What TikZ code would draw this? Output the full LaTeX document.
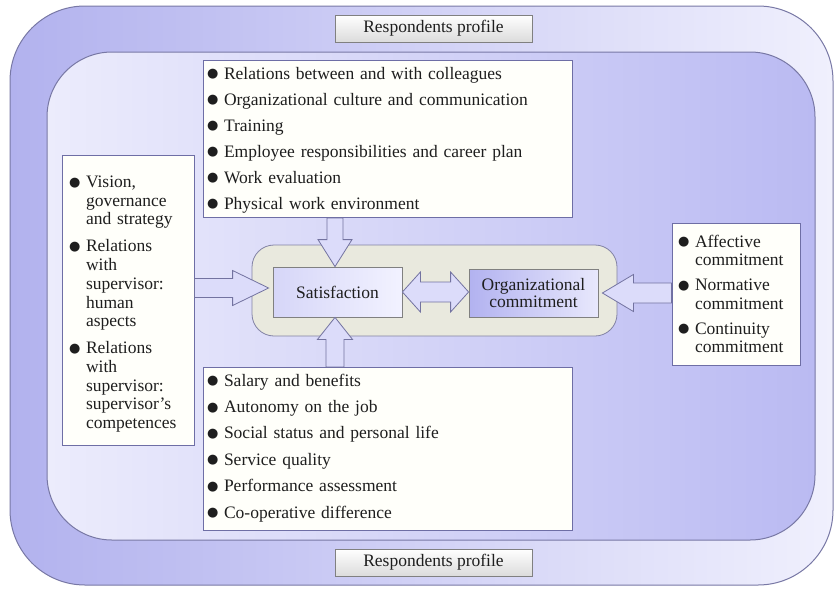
\documentclass[tikz,border=0pt]{standalone}
\usepackage{fontspec}
\setmainfont{Liberation Serif}
\newfontfamily\bulfont{DejaVu Sans}
\usetikzlibrary{calc}
\definecolor{outerL}{RGB}{178,178,238}
\definecolor{outerR}{RGB}{240,240,253}
\definecolor{innerL}{RGB}{236,236,252}
\definecolor{innerR}{RGB}{186,186,242}
\definecolor{shapeborder}{RGB}{120,120,165}
\definecolor{boxborder}{RGB}{110,110,165}
\definecolor{listfill}{RGB}{255,255,250}
\definecolor{corefill}{RGB}{233,233,222}
\definecolor{coreborder}{RGB}{130,130,165}
\definecolor{arrowfill}{RGB}{220,220,250}
\definecolor{arrowborder}{RGB}{115,115,160}
\definecolor{satL}{RGB}{214,214,248}
\definecolor{satR}{RGB}{242,242,255}
\definecolor{orgL}{RGB}{178,178,240}
\definecolor{orgR}{RGB}{232,232,252}
\definecolor{txt}{RGB}{30,30,30}
\newlength\bulw
\setlength\bulw{17pt}
\newcommand\itm[2][0pt]{\par\lineskip=0pt\vspace{#1}\noindent\hbox to\bulw{\raisebox{1.3pt}{\bulfont\fontsize{13}{13}\selectfont ●}\hss}\parbox[t]{\dimexpr\linewidth-\bulw\relax}{\raggedright\strut #2\strut}}
\newcommand\lfont{\fontsize{17.5}{18.7}\selectfont}
\newcommand\harr[5]{%
 \draw[blockarrow] let \p1=(#1), \p2=(#2), \n1={sign(\x1-\x2)} in
 (\x1,\y2+#3) -- ({\x2+\n1*#5},\y2+#3) -- ({\x2+\n1*#5},\y2+#4) -- (\x2,\y2)
 -- ({\x2+\n1*#5},\y2-#4) -- ({\x2+\n1*#5},\y2-#3) -- (\x1,\y2-#3) -- cycle;}
\newcommand\varr[5]{%
 \draw[blockarrow] let \p1=(#1), \p2=(#2), \n1={sign(\y1-\y2)} in
 (\x2+#3,\y1) -- (\x2+#3,{\y2+\n1*#5}) -- (\x2+#4,{\y2+\n1*#5}) -- (\x2,\y2)
 -- (\x2-#4,{\y2+\n1*#5}) -- (\x2-#3,{\y2+\n1*#5}) -- (\x2-#3,\y1) -- cycle;}
\newcommand\darr[5]{%
 \draw[blockarrow] let \p1=(#1), \p2=(#2) in
 (\x1,\y1) -- (\x1+#5,\y1+#4) -- (\x1+#5,\y1+#3) -- (\x2-#5,\y1+#3) -- (\x2-#5,\y1+#4)
 -- (\x2,\y1) -- (\x2-#5,\y1-#4) -- (\x2-#5,\y1-#3) -- (\x1+#5,\y1-#3) -- (\x1+#5,\y1-#4) -- cycle;}
\tikzset{
 listbox/.style={draw=boxborder, fill=listfill, line width=0.8pt, inner ysep=0pt,
   align=left, font=\lfont, text=txt},
 resp/.style={draw=black!50, line width=0.8pt, top color=white, bottom color=black!14,
   minimum width=197, minimum height=27, inner sep=0pt, font=\lfont, text=txt},
 core/.style={draw=coreborder, fill=corefill, line width=0.8pt, rounded corners=22,
   minimum width=365, minimum height=91, inner sep=0pt},
 satbox/.style={draw=black!50, line width=0.8pt, left color=satL, right color=satR,
   minimum width=129, minimum height=50, inner sep=0pt, font=\lfont, text=txt, align=center},
 orgbox/.style={draw=black!50, line width=0.8pt, left color=orgL, right color=orgR,
   minimum width=129, minimum height=48, inner sep=0pt, font=\lfont, text=txt, align=center},
 blockarrow/.style={draw=arrowborder, fill=arrowfill, line width=0.8pt, line join=miter},
 bigshape/.style={draw=shapeborder, line width=1pt}
}
\begin{document}
\begin{tikzpicture}[x=1pt,y=-1pt]
\useasboundingbox (0,0) rectangle (840,589);
\fill[white] (0,0) rectangle (840,589);
% outer and inner frames
\path[bigshape, left color=outerL, right color=outerR, rounded corners=75] (10,6) rectangle (833,585);
\path[bigshape, left color=innerL, right color=innerR, rounded corners=65] (47,52) rectangle (815,540);
% respondents profile
\node[resp] (rtop) at (433.5,28.5) {Respondents profile};
\node[resp] (rbot) at (433.5,562.5) {Respondents profile};
% list boxes
\node[listbox, minimum width=369, minimum height=152, text width=361, inner xsep=4pt] (topbox) at (387.5,139) {%
 \itm{Relations between and with colleagues}
 \itm[7.3pt]{Organizational culture and communication}
 \itm[7.3pt]{Training}
 \itm[7.3pt]{Employee responsibilities and career plan}
 \itm[7.3pt]{Work evaluation}
 \itm[7.3pt]{Physical work environment}\par\vspace{3pt}};
\node[listbox, minimum width=369, minimum height=162, text width=361, inner xsep=4pt] (botbox) at (387.5,449) {%
 \itm{Salary and benefits}
 \itm[7.7pt]{Autonomy on the job}
 \itm[7.7pt]{Social status and personal life}
 \itm[7.7pt]{Service quality}
 \itm[7.7pt]{Performance assessment}
 \itm[7.7pt]{Co-operative difference}\par\vspace{7pt}};
\node[listbox, minimum width=132, minimum height=290, text width=118, inner xsep=7pt] (leftbox) at (128,300) {%
 \itm{Vision,\\ governance\\ and strategy}
 \itm[8.3pt]{Relations\\ with\\ supervisor:\\ human\\ aspects}
 \itm[8.3pt]{Relations\\ with\\ supervisor:\\ supervisor’s\\ competences}\par\vspace{-3pt}};
\node[listbox, minimum width=128, minimum height=142, text width=116, inner xsep=6pt] (rightbox) at (736,294) {%
 \itm{Affective\\ commitment}
 \itm[6pt]{Normative\\ commitment}
 \itm[6pt]{Continuity\\ commitment}\par\vspace{1pt}};
% core
\node[core] (core) at (434.5,290.5) {};
\node[satbox] (sat) at (337.5,292) {Satisfaction};
\node[orgbox] (org) at (533.5,293) {Organizational\\[-1.5pt] commitment};
% block arrows
\harr{leftbox.east}{[shift={(-4,-4)}]sat.west}{9.5pt}{17.5pt}{36pt}
\harr{rightbox.west}{[xshift=4pt]org.east}{10pt}{18.5pt}{31pt}
\varr{topbox.south}{[xshift=-2.5pt]sat.north}{8pt}{17pt}{27pt}
\varr{botbox.north}{[xshift=-2.5pt]sat.south}{9pt}{17.5pt}{22pt}
\darr{sat.east}{org.west}{10pt}{20pt}{18pt}
\end{tikzpicture}
\end{document}
